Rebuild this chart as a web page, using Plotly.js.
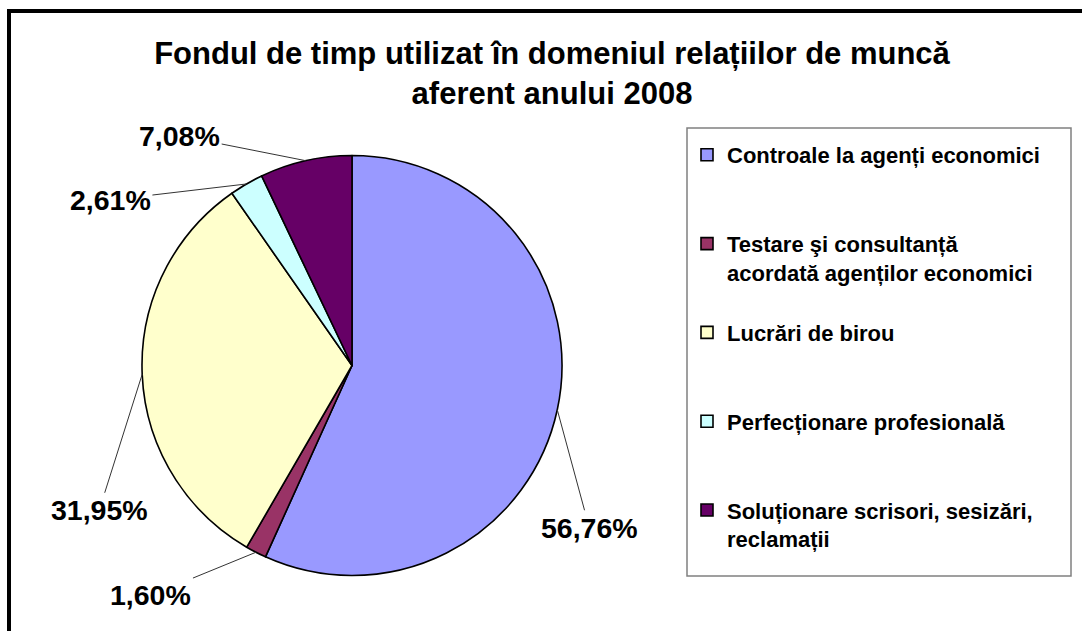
<!DOCTYPE html>
<html>
<head>
<meta charset="utf-8">
<script src="https://cdn.plot.ly/plotly-3.0.1.min.js"></script>
<style>
  html, body { margin: 0; padding: 0; background: #ffffff; }
  #chart { width: 1082px; height: 631px; }
</style>
</head>
<body>
<div id="chart"></div>
<script>
// ---- data ----
const categories = [
  "Controale la agenți economici",
  "Testare şi consultanță<br>acordată agenților economici",
  "Lucrări de birou",
  "Perfecționare profesională",
  "Soluționare scrisori, sesizări,<br>reclamații"
];
const values = [56.76, 1.60, 31.95, 2.61, 7.08];
const valueLabels = ["56,76%", "1,60%", "31,95%", "2,61%", "7,08%"];
const colors = ["#9999FF", "#993366", "#FFFFCC", "#CCFFFF", "#660066"];

// ---- layout settings ----
const W = 1082, H = 631;
const FONT = "Liberation Sans, Arial, sans-serif";
const pieDomainPx = { x0: 142, x1: 562, y0: 155, y1: 576 };
// pixel offsets of the value labels from their slice edge point (layout only)
const labelOffsets = [[32, 118], [-105, 43], [-43, 136], [-136, 16], [-126, -25]];

// legend text padded to equal-height entries
const legendLabels = categories.map(function (c) {
  const lines = c.split("<br>").length;
  let s = c;
  for (let i = lines; i < 3; i++) s += "<br>\u00a0";
  return s;
});

const pie = {
  type: "pie",
  labels: legendLabels,
  values: values,
  sort: false,
  direction: "clockwise",
  rotation: 0,
  textinfo: "none",
  hoverinfo: "label+percent",
  marker: { colors: colors, line: { color: "#000000", width: 1.6 } },
  domain: {
    x: [pieDomainPx.x0 / W, pieDomainPx.x1 / W],
    y: [1 - pieDomainPx.y1 / H, 1 - pieDomainPx.y0 / H]
  }
};

// compute slice mid-angle anchor points from the data
const total = values.reduce((a, b) => a + b, 0);
const cx = (pieDomainPx.x0 + pieDomainPx.x1) / 2;
const cy = (pieDomainPx.y0 + pieDomainPx.y1) / 2;
const R = Math.min(pieDomainPx.x1 - pieDomainPx.x0, pieDomainPx.y1 - pieDomainPx.y0) / 2;
let cum = 0;
const annotations = values.map(function (v, i) {
  const mid = (cum + v / 2) / total * 2 * Math.PI;
  cum += v;
  const px = cx + R * Math.sin(mid);
  const py = cy - R * Math.cos(mid);
  return {
    x: px / W, y: 1 - py / H, xref: "paper", yref: "paper",
    text: valueLabels[i],
    showarrow: true, arrowhead: 0, arrowwidth: 1, arrowcolor: "#333333",
    ax: labelOffsets[i][0], ay: labelOffsets[i][1],
    standoff: 0, startstandoff: 0,
    font: { family: FONT, size: 28.5, color: "#000000", weight: "bold" }
  };
});

const layout = {
  width: W, height: H,
  margin: { l: 0, r: 0, t: 0, b: 0 },
  paper_bgcolor: "#ffffff",
  title: {
    text: "Fondul de timp utilizat în domeniul relațiilor de muncă<br>aferent anului 2008",
    font: { family: FONT, size: 31, color: "#000000", weight: "bold" },
    x: 552 / W, xanchor: "center", xref: "container",
    y: 1 - 64 / H, yanchor: "middle", yref: "container"
  },
  showlegend: true,
  legend: {
    x: 687 / W, xanchor: "left",
    y: 1 - 134 / H, yanchor: "top",
    bgcolor: "rgba(0,0,0,0)", borderwidth: 0,
    valign: "top",
    font: { family: FONT, size: 22, color: "#000000", weight: "bold" }
  },
  annotations: annotations,
  shapes: [
    { type: "line", xref: "paper", yref: "paper", x0: 7 / W, x1: 1, y0: 1 - 11 / H, y1: 1 - 11 / H,
      line: { color: "#000000", width: 4 } },
    { type: "line", xref: "paper", yref: "paper", x0: 9 / W, x1: 9 / W, y0: 0, y1: 1 - 9 / H,
      line: { color: "#000000", width: 4 } },
    { type: "rect", xref: "paper", yref: "paper", x0: 687 / W, x1: 1071 / W, y0: 1 - 576 / H, y1: 1 - 128 / H,
      line: { color: "#808080", width: 1.5 }, fillcolor: "rgba(0,0,0,0)" }
  ]
};

Plotly.newPlot("chart", [pie], layout, { displayModeBar: false, staticPlot: true });
</script>
</body>
</html>
